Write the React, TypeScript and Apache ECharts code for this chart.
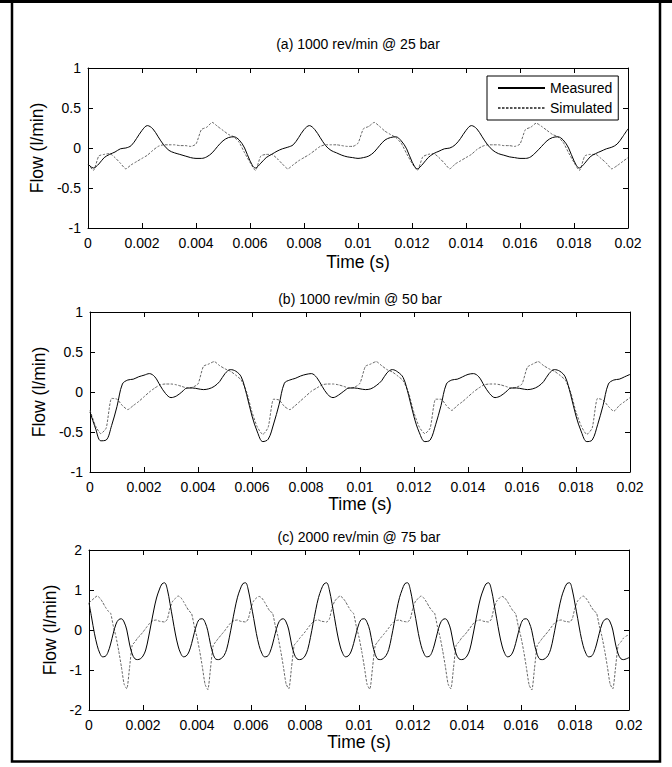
import React, { useEffect, useRef } from "react";
import * as echarts from "echarts";

// ---- Data ----
const panelTitles = [
  "(a) 1000 rev/min @ 25 bar",
  "(b) 1000 rev/min @ 50 bar",
  "(c) 2000 rev/min @ 75 bar",
];
const seriesNames = ["Measured", "Simulated"];
const xTickStep = 0.002;
const stepAB = 0.0002; // sampling step of panels (a) and (b)
const stepC = 0.0001; // sampling step of panel (c)

// Panel (a): 0 .. 0.02 s every 0.2 ms (101 samples)
const measuredA = [
  -0.20, -0.25, -0.20, -0.12, -0.08, -0.05, -0.01, 0.00, 0.03, 0.12, 0.22, 0.28, 0.24, 0.14, 0.04, -0.03, -0.06, -0.08, -0.10, -0.12, -0.13, -0.13, -0.11, -0.06, 0.02, 0.09, 0.13, 0.14, 0.10, 0.00,
  -0.16, -0.25, -0.19, -0.12, -0.08, -0.04, -0.01, 0.01, 0.04, 0.13, 0.23, 0.28, 0.23, 0.13, 0.03, -0.03, -0.06, -0.09, -0.11, -0.12, -0.13, -0.12, -0.10, -0.05, 0.03, 0.10, 0.13, 0.14, 0.09, -0.01,
  -0.17, -0.26, -0.20, -0.12, -0.07, -0.04, -0.01, 0.00, 0.04, 0.12, 0.22, 0.28, 0.24, 0.14, 0.04, -0.03, -0.07, -0.09, -0.11, -0.12, -0.13, -0.13, -0.11, -0.05, 0.02, 0.09, 0.13, 0.14, 0.10, 0.00,
  -0.16, -0.25, -0.19, -0.11, -0.07, -0.04, -0.01, 0.01, 0.05, 0.14, 0.24,
];
const simulatedA = [
  -0.20, -0.28, -0.10, -0.08, -0.07, -0.12, -0.19, -0.26, -0.21, -0.17, -0.13, -0.09, -0.03, 0.02, 0.04, 0.04, 0.04, 0.03, 0.03, 0.02, 0.05, 0.23, 0.26, 0.32, 0.27, 0.22, 0.17, 0.14, 0.07, -0.06,
  -0.18, -0.28, -0.10, -0.08, -0.08, -0.13, -0.20, -0.26, -0.21, -0.16, -0.12, -0.08, -0.03, 0.02, 0.04, 0.04, 0.04, 0.03, 0.02, 0.02, 0.06, 0.24, 0.27, 0.32, 0.27, 0.21, 0.17, 0.13, 0.06, -0.07,
  -0.19, -0.28, -0.11, -0.08, -0.07, -0.12, -0.19, -0.26, -0.20, -0.16, -0.12, -0.08, -0.02, 0.02, 0.04, 0.04, 0.04, 0.03, 0.03, 0.02, 0.05, 0.23, 0.26, 0.31, 0.27, 0.22, 0.17, 0.14, 0.07, -0.06,
  -0.18, -0.28, -0.10, -0.08, -0.08, -0.13, -0.19, -0.26, -0.22, -0.17, -0.12,
];

// Panel (b): 0 .. 0.02 s every 0.2 ms (101 samples)
const measuredB = [
  -0.25, -0.45, -0.61, -0.60, -0.42, -0.18, 0.10, 0.15, 0.16, 0.19, 0.21, 0.23, 0.19, 0.08, -0.02, -0.07, -0.05, 0.00, 0.05, 0.05, 0.04, 0.03, 0.04, 0.07, 0.13, 0.23, 0.28, 0.26, 0.19, -0.03,
  -0.30, -0.50, -0.62, -0.59, -0.40, -0.16, 0.11, 0.15, 0.17, 0.20, 0.22, 0.23, 0.18, 0.07, -0.03, -0.07, -0.04, 0.01, 0.05, 0.05, 0.04, 0.03, 0.04, 0.08, 0.14, 0.24, 0.28, 0.25, 0.18, -0.04,
  -0.31, -0.51, -0.62, -0.60, -0.41, -0.17, 0.10, 0.15, 0.16, 0.19, 0.22, 0.23, 0.19, 0.08, -0.02, -0.07, -0.05, 0.00, 0.05, 0.05, 0.04, 0.03, 0.04, 0.07, 0.13, 0.23, 0.28, 0.26, 0.19, -0.03,
  -0.30, -0.50, -0.62, -0.60, -0.41, -0.17, 0.10, 0.15, 0.16, 0.19, 0.22,
];
const simulatedB = [
  -0.23, -0.42, -0.52, -0.45, -0.08, -0.09, -0.17, -0.22, -0.17, -0.12, -0.06, 0.00, 0.05, 0.09, 0.10, 0.10, 0.09, 0.07, 0.05, 0.06, 0.10, 0.32, 0.35, 0.38, 0.33, 0.29, 0.26, 0.21, 0.15, 0.00,
  -0.25, -0.44, -0.53, -0.44, -0.09, -0.10, -0.18, -0.22, -0.17, -0.11, -0.05, 0.01, 0.05, 0.09, 0.10, 0.10, 0.09, 0.07, 0.05, 0.06, 0.11, 0.32, 0.35, 0.38, 0.33, 0.28, 0.25, 0.20, 0.14, -0.01,
  -0.26, -0.44, -0.52, -0.45, -0.09, -0.09, -0.17, -0.23, -0.17, -0.12, -0.06, 0.00, 0.05, 0.09, 0.10, 0.10, 0.09, 0.07, 0.05, 0.06, 0.10, 0.31, 0.35, 0.38, 0.33, 0.29, 0.26, 0.21, 0.15, 0.00,
  -0.25, -0.43, -0.53, -0.45, -0.08, -0.10, -0.18, -0.24, -0.17, -0.12, -0.07,
];

// Panel (c): 0 .. 0.02 s every 0.1 ms (201 samples)
const measuredC = [
  0.68, 0.30, -0.08, -0.38, -0.58, -0.67, -0.66, -0.56, -0.35, -0.08, 0.15, 0.26, 0.28, 0.20, 0.00, -0.35, -0.60, -0.72, -0.74, -0.72, -0.65, -0.50, -0.20, 0.15, 0.50, 0.80, 1.00, 1.15, 1.18, 1.02,
  0.66, 0.28, -0.10, -0.40, -0.59, -0.67, -0.65, -0.55, -0.34, -0.07, 0.16, 0.27, 0.28, 0.19, -0.02, -0.36, -0.61, -0.73, -0.74, -0.71, -0.64, -0.48, -0.18, 0.17, 0.52, 0.82, 1.02, 1.16, 1.18, 1.00,
  0.65, 0.29, -0.09, -0.39, -0.58, -0.67, -0.66, -0.56, -0.35, -0.08, 0.15, 0.26, 0.28, 0.20, 0.00, -0.35, -0.60, -0.72, -0.74, -0.72, -0.65, -0.49, -0.19, 0.16, 0.51, 0.81, 1.01, 1.15, 1.18, 1.01,
  0.66, 0.28, -0.10, -0.40, -0.59, -0.67, -0.65, -0.55, -0.34, -0.07, 0.16, 0.27, 0.28, 0.19, -0.01, -0.36, -0.61, -0.73, -0.74, -0.71, -0.64, -0.49, -0.19, 0.16, 0.51, 0.81, 1.01, 1.16, 1.18, 1.01,
  0.65, 0.29, -0.09, -0.39, -0.58, -0.67, -0.66, -0.56, -0.35, -0.08, 0.15, 0.26, 0.28, 0.20, 0.00, -0.35, -0.60, -0.72, -0.74, -0.72, -0.65, -0.50, -0.20, 0.15, 0.50, 0.80, 1.00, 1.15, 1.18, 1.02,
  0.66, 0.28, -0.10, -0.40, -0.59, -0.67, -0.65, -0.55, -0.34, -0.07, 0.16, 0.27, 0.28, 0.19, -0.02, -0.36, -0.61, -0.73, -0.74, -0.71, -0.64, -0.48, -0.18, 0.17, 0.52, 0.82, 1.02, 1.16, 1.18, 1.00,
  0.65, 0.29, -0.09, -0.39, -0.58, -0.67, -0.66, -0.56, -0.35, -0.08, 0.15, 0.26, 0.28, 0.20, 0.00, -0.35, -0.60, -0.72, -0.74, -0.72, -0.69,
];
const simulatedC = [
  0.68, 0.74, 0.80, 0.85, 0.80, 0.70, 0.58, 0.48, 0.42, 0.10, -0.17, -0.52, -0.92, -1.35, -1.47, -0.95, -0.38, -0.30, -0.20, -0.13, -0.05, 0.04, 0.13, 0.21, 0.24, 0.25, 0.22, 0.21, 0.20, 0.27,
  0.55, 0.72, 0.79, 0.85, 0.81, 0.71, 0.59, 0.48, 0.41, 0.09, -0.18, -0.53, -0.93, -1.36, -1.49, -0.96, -0.39, -0.29, -0.20, -0.12, -0.04, 0.05, 0.14, 0.21, 0.24, 0.25, 0.22, 0.21, 0.20, 0.28,
  0.56, 0.73, 0.80, 0.84, 0.80, 0.70, 0.58, 0.47, 0.42, 0.10, -0.17, -0.52, -0.92, -1.35, -1.47, -0.94, -0.38, -0.30, -0.21, -0.13, -0.05, 0.04, 0.13, 0.20, 0.24, 0.25, 0.22, 0.21, 0.20, 0.27,
  0.55, 0.72, 0.80, 0.85, 0.80, 0.71, 0.59, 0.48, 0.41, 0.09, -0.18, -0.53, -0.93, -1.36, -1.48, -0.95, -0.39, -0.29, -0.20, -0.12, -0.04, 0.05, 0.14, 0.21, 0.24, 0.25, 0.22, 0.21, 0.20, 0.28,
  0.56, 0.73, 0.79, 0.85, 0.80, 0.70, 0.58, 0.48, 0.42, 0.10, -0.17, -0.52, -0.92, -1.35, -1.47, -0.95, -0.38, -0.30, -0.20, -0.13, -0.05, 0.04, 0.13, 0.21, 0.24, 0.25, 0.22, 0.21, 0.20, 0.27,
  0.55, 0.72, 0.80, 0.84, 0.80, 0.71, 0.59, 0.48, 0.41, 0.09, -0.18, -0.53, -0.94, -1.37, -1.50, -0.96, -0.39, -0.29, -0.20, -0.12, -0.04, 0.05, 0.14, 0.21, 0.24, 0.25, 0.22, 0.21, 0.20, 0.28,
  0.56, 0.73, 0.80, 0.85, 0.80, 0.70, 0.58, 0.48, 0.42, 0.10, -0.17, -0.52, -0.92, -1.35, -1.47, -0.95, -0.38, -0.30, -0.20, -0.15, -0.12,
];

const yRanges = [
  { min: -1, max: 1, interval: 0.5 },
  { min: -1, max: 1, interval: 0.5 },
  { min: -2, max: 2, interval: 1 },
];

const FONT = "'Liberation Sans', Arial, sans-serif";

function pairs(values: number[], step: number) {
  return values.map((v, i) => [Number((i * step).toFixed(5)), v]);
}

export default function App() {
  const ref = useRef<HTMLDivElement>(null);

  useEffect(() => {
    if (!ref.current) return;
    const chart = echarts.init(ref.current, undefined, { renderer: "svg" });

    const grids = [
      { left: 88, top: 68, width: 540, height: 160 },
      { left: 90, top: 312, width: 540, height: 160 },
      { left: 89, top: 550, width: 540, height: 160 },
    ];
    const xNameGaps = [25, 22, 21];

    const xAxes: any[] = [];
    const yAxes: any[] = [];
    grids.forEach((g, i) => {
      const xCommon = {
        type: "value",
        gridIndex: i,
        min: 0,
        max: 0.02,
        interval: xTickStep,
        splitLine: { show: false },
        axisLine: { show: true, onZero: false, lineStyle: { color: "#000", width: 1 } },
        axisTick: { show: true, inside: true, length: 5, lineStyle: { color: "#000" } },
      };
      xAxes.push({
        ...xCommon,
        position: "bottom",
        axisLabel: {
          show: true,
          color: "#000",
          fontSize: 14,
          fontFamily: FONT,
          margin: 8,
          formatter: (v: number) => String(Number(v.toFixed(4))),
        },
        name: "Time (s)",
        nameLocation: "middle",
        nameGap: xNameGaps[i],
        nameTextStyle: { color: "#000", fontSize: 17.5, fontFamily: FONT },
      });
      xAxes.push({ ...xCommon, position: "top", axisLabel: { show: false } });

      const r = yRanges[i];
      const yCommon = {
        type: "value",
        gridIndex: i,
        min: r.min,
        max: r.max,
        interval: r.interval,
        splitLine: { show: false },
        axisLine: { show: true, onZero: false, lineStyle: { color: "#000", width: 1 } },
        axisTick: { show: true, inside: true, length: 5, lineStyle: { color: "#000" } },
      };
      yAxes.push({
        ...yCommon,
        position: "left",
        axisLabel: { show: true, color: "#000", fontSize: 14, fontFamily: FONT, margin: 7 },
        name: "Flow (l/min)",
        nameLocation: "middle",
        nameGap: 25,
        nameRotate: 90,
        nameTextStyle: { color: "#000", fontSize: 17.5, fontFamily: FONT },
      });
      yAxes.push({ ...yCommon, position: "right", axisLabel: { show: false } });
    });

    const panelData = [
      [measuredA, simulatedA, stepAB],
      [measuredB, simulatedB, stepAB],
      [measuredC, simulatedC, stepC],
    ] as [number[], number[], number][];

    const series: any[] = [];
    panelData.forEach(([meas, sim, step], i) => {
      series.push({
        name: seriesNames[0],
        type: "line",
        xAxisIndex: i * 2,
        yAxisIndex: i * 2,
        data: pairs(meas, step),
        symbol: "none",
        showSymbol: false,
        smooth: 0.35,
        lineStyle: { color: "#000", width: 1, type: "solid" },
        itemStyle: { color: "#000" },
        z: 3,
      });
      series.push({
        name: seriesNames[1],
        type: "line",
        xAxisIndex: i * 2,
        yAxisIndex: i * 2,
        data: pairs(sim, step),
        symbol: "none",
        showSymbol: false,
        smooth: 0.2,
        lineStyle: { color: "#555", width: 0.9, type: [2.5, 1.5] },
        itemStyle: { color: "#555" },
        z: 2,
      });
    });

    const titleY = [44, 299, 537];
    const graphics: any[] = [
      { type: "rect", shape: { x: 0, y: 0, width: 672, height: 3 }, style: { fill: "#000" }, z: 100 },
      {
        type: "rect",
        shape: { x: 12, y: 1.5, width: 648, height: 760 },
        style: { fill: "none", stroke: "#000", lineWidth: 2.5 },
        z: 100,
      },
    ];
    panelTitles.forEach((t, i) => {
      graphics.push({
        type: "text",
        x: grids[i].left + grids[i].width / 2,
        y: titleY[i],
        style: {
          text: t,
          fill: "#000",
          fontSize: 14,
          fontFamily: FONT,
          textAlign: "center",
          textVerticalAlign: "middle",
        },
        z: 100,
      });
    });

    chart.setOption({
      animation: false,
      backgroundColor: "#fff",
      textStyle: { fontFamily: FONT },
      grid: grids.map((g) => ({ ...g, containLabel: false })),
      xAxis: xAxes,
      yAxis: yAxes,
      legend: {
        data: seriesNames,
        orient: "vertical",
        left: 487,
        top: 76,
        itemWidth: 47,
        itemHeight: 10,
        itemGap: 6,
        padding: [5, 6, 5, 10],
        borderColor: "#000",
        borderWidth: 1,
        borderRadius: 0,
        backgroundColor: "#fff",
        selectedMode: false,
        itemStyle: { color: "transparent", borderColor: "transparent", borderWidth: 0, opacity: 0 },
        textStyle: { color: "#000", fontSize: 14, fontFamily: FONT },
      },
      series,
      graphic: graphics,
    });

    return () => chart.dispose();
  }, []);

  return (
    <div
      ref={ref}
      style={{ position: "absolute", left: 0, top: 0, width: 672, height: 767 }}
    />
  );
}
